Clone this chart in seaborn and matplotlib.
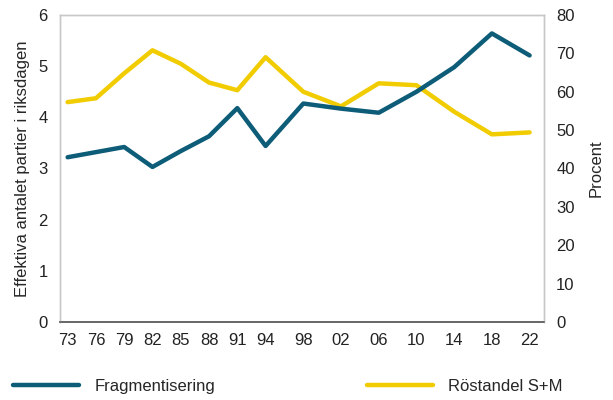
import matplotlib
matplotlib.use("Agg")
import pandas as pd
import seaborn as sns
import matplotlib.pyplot as plt

years = [1973, 1976, 1979, 1982, 1985, 1988, 1991, 1994, 1998, 2002, 2006, 2010, 2014, 2018, 2022]
year_labels = ["73", "76", "79", "82", "85", "88", "91", "94", "98", "02", "06", "10", "14", "18", "22"]
fragmentisering = [3.22, 3.32, 3.42, 3.03, 3.34, 3.63, 4.18, 3.44, 4.27, 4.17, 4.09, 4.50, 4.98, 5.64, 5.21]
rostandel_sm = [57.3, 58.3, 64.8, 70.8, 67.3, 62.4, 60.4, 69.0, 60.0, 56.2, 62.2, 61.7, 54.8, 48.9, 49.4]

df = pd.DataFrame({"year": years, "frag": fragmentisering, "sm": rostandel_sm})

sns.set_style("white")
plt.rcParams["font.family"] = ["Liberation Sans", "DejaVu Sans"]
plt.rcParams["font.size"] = 12

blue = "#0d5c78"
yellow = "#f0cc00"

fig, ax = plt.subplots(figsize=(6.13, 4.0), dpi=100)
fig.subplots_adjust(left=0.098, right=0.887, top=0.9625, bottom=0.195)
ax2 = ax.twinx()

sns.lineplot(data=df, x="year", y="frag", ax=ax, color=blue, linewidth=3.2, label="Fragmentisering", legend=False)
sns.lineplot(data=df, x="year", y="sm", ax=ax2, color=yellow, linewidth=3.2, label="Röstandel S+M", legend=False)
# blue line on top of the yellow one
ax.set_zorder(ax2.get_zorder() + 1)
ax.patch.set_visible(False)

ax.set_xlim(1972.2, 2023.5)
ax.set_ylim(0, 6)
ax2.set_ylim(0, 80)
ax.set_xticks(years)
ax.set_xticklabels(year_labels)
ax.set_yticks(range(0, 7))
ax2.set_yticks(range(0, 81, 10))

ax.set_xlabel("")
ax.set_ylabel("Effektiva antalet partier i riksdagen", fontsize=12, labelpad=6)
ax2.set_ylabel("Procent", fontsize=12, labelpad=10)

for a in (ax, ax2):
    a.tick_params(length=0, labelsize=12, colors="#222222")
    for s in ("left", "right", "top"):
        a.spines[s].set_color("#c8c8c8")
        a.spines[s].set_linewidth(1.0)
    a.spines["bottom"].set_color("#666666")
    a.spines["bottom"].set_linewidth(1.2)
ax.tick_params(axis="x", pad=8)
ax.tick_params(axis="y", pad=9)
ax2.tick_params(axis="y", pad=9)

h1, l1 = ax.get_legend_handles_labels()
h2, l2 = ax2.get_legend_handles_labels()
fig.legend(h1 + h2, l1 + l2, loc="lower left", bbox_to_anchor=(-0.004, -0.022), ncol=2,
           frameon=False, handlelength=4.0, handletextpad=0.9, columnspacing=9.1, fontsize=12)

fig.savefig("out.png", dpi=100)
